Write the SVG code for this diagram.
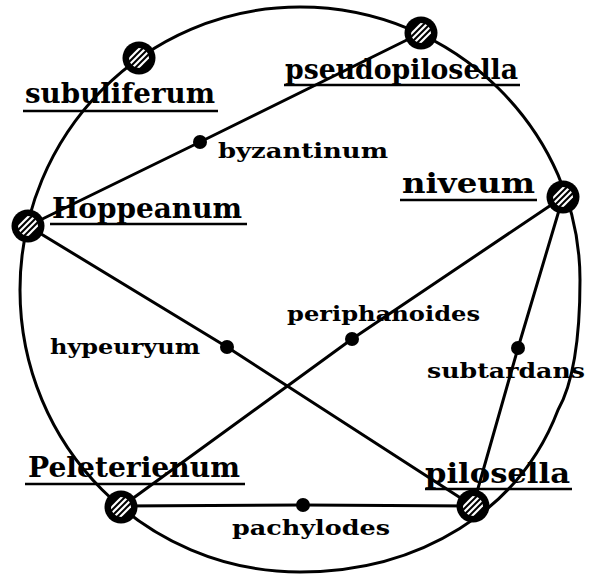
<svg xmlns="http://www.w3.org/2000/svg" width="592" height="574" viewBox="0 0 592 574">
<style>
.edge{fill:none;stroke:#000;stroke-width:3;stroke-linecap:round;stroke-linejoin:round}
.ul{stroke:#000;stroke-width:2.5}
.big{font-family:"DejaVu Serif","Liberation Serif",serif;font-weight:bold;font-size:28px;fill:#000}
.small{font-family:"DejaVu Serif","Liberation Serif",serif;font-weight:bold;font-size:21px;fill:#000}
.dot{fill:#000}
</style>
<defs>
<clipPath id="hc"><circle cx="0" cy="0" r="10"/></clipPath>
<g id="hub">
<circle r="16.5" fill="#000"/>
<g clip-path="url(#hc)" stroke="#fff" stroke-width="2.2">
<line x1="-20" y1="11" x2="11" y2="-20"/>
<line x1="-20" y1="17" x2="17" y2="-20"/>
<line x1="-20" y1="23" x2="23" y2="-20"/>
<line x1="-20" y1="29" x2="29" y2="-20"/>
</g>
</g>
</defs>
<rect width="592" height="574" fill="#fff"/>
<g id="connectors">
<path class="edge" d="M300,7 C455,7 580,132 580,280 C580,330 575,380 558,410 C520,510 420,572 300,572 C145,572 20,446 20,290 C20,134 145,7 300,7 Z"/>
<polyline class="edge" points="28,226 200,142 421,33"/>
<polyline class="edge" points="28,226 227,347 473,506"/>
<polyline class="edge" points="121,507 352,339 563,197"/>
<polyline class="edge" points="563,197 518,348 473,506"/>
<polyline class="edge" points="121,506 303,505 473,506"/>
</g>
<g id="subuliferum">
<use href="#hub" x="139" y="58"/>
<text class="big" x="25" y="103" textLength="190" lengthAdjust="spacingAndGlyphs">subuliferum</text>
<line class="ul" x1="23" y1="111" x2="218" y2="111"/>
</g>
<g id="pseudopilosella">
<use href="#hub" x="421" y="33"/>
<text class="big" x="285" y="79" textLength="233" lengthAdjust="spacingAndGlyphs">pseudopilosella</text>
<line class="ul" x1="284" y1="85" x2="520" y2="85"/>
</g>
<g id="niveum">
<use href="#hub" x="563" y="197"/>
<text class="big" x="402" y="193" textLength="133" lengthAdjust="spacingAndGlyphs">niveum</text>
<line class="ul" x1="400" y1="200" x2="537" y2="200"/>
</g>
<g id="Hoppeanum">
<use href="#hub" x="28" y="226"/>
<text class="big" x="52" y="218" textLength="190" lengthAdjust="spacingAndGlyphs">Hoppeanum</text>
<line class="ul" x1="50" y1="224" x2="247" y2="224"/>
</g>
<g id="Peleterienum">
<use href="#hub" x="121" y="507"/>
<text class="big" x="28" y="477" textLength="212" lengthAdjust="spacingAndGlyphs">Peleterienum</text>
<line class="ul" x1="25" y1="484" x2="245" y2="484"/>
</g>
<g id="pilosella">
<use href="#hub" x="473" y="506"/>
<text class="big" x="425" y="483" textLength="145" lengthAdjust="spacingAndGlyphs">pilosella</text>
<line class="ul" x1="425" y1="489" x2="572" y2="489"/>
</g>
<g id="byzantinum">
<circle class="dot" cx="200" cy="142" r="7"/>
<text class="small" x="218" y="158" textLength="170" lengthAdjust="spacingAndGlyphs">byzantinum</text>
</g>
<g id="hypeuryum">
<circle class="dot" cx="227" cy="347" r="7"/>
<text class="small" x="50" y="354" textLength="150" lengthAdjust="spacingAndGlyphs">hypeuryum</text>
</g>
<g id="periphanoides">
<circle class="dot" cx="352" cy="339" r="7"/>
<text class="small" x="287" y="321" textLength="193" lengthAdjust="spacingAndGlyphs">periphanoides</text>
</g>
<g id="subtardans">
<circle class="dot" cx="518" cy="348" r="7"/>
<text class="small" x="427" y="378" textLength="158" lengthAdjust="spacingAndGlyphs">subtardans</text>
</g>
<g id="pachylodes">
<circle class="dot" cx="303" cy="505" r="7"/>
<text class="small" x="232" y="535" textLength="158" lengthAdjust="spacingAndGlyphs">pachylodes</text>
</g>
</svg>
